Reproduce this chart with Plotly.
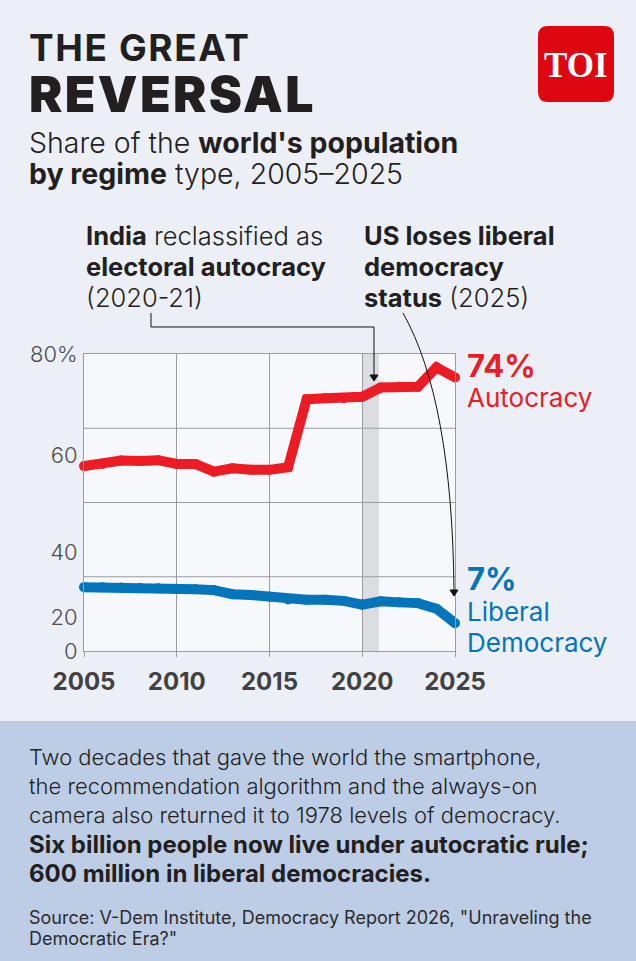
import plotly.graph_objects as go

# ---------------- data ----------------
years = list(range(2005, 2026))
autocracy = [49.8, 50.4, 51.3, 51.2, 51.4, 50.4, 50.4, 48.3, 49.2, 48.8, 48.8,
             49.5, 67.8, 68.1, 68.1, 68.5, 71.0, 71.2, 71.2, 76.4, 73.7]
liberal_democracy = [17.2, 17.2, 17.1, 17.0, 16.9, 16.7, 16.6, 16.4, 15.3, 15.1, 14.6,
                     13.9, 13.8, 13.8, 13.5, 12.5, 13.4, 13.1, 12.9, 11.4, 7.5]
x_tick_years = [2005, 2010, 2015, 2020, 2025]
y_tick_text = ["0", "20", "40", "60", "80%"]
y_tick_printed_at = [0, 9.0, 26.5, 52.8, 80]   # where the reference prints its labels
y_grid_values = [20, 40, 60]
india_period = [2020, 2020.9]
autocracy_label = "74%"
democracy_label = "7%"

# ---------------- styling ----------------
W, H = 636, 961
FONT = "Inter"
RED = "#ED1C24"
BLUE = "#0474BB"
DARK = "#231F20"
GRID = "#9C9C9E"
BG = "#ECEFF5"
PLOT_BG = "#F6F8FC"
BOX = "#BDCDE6"
ASC = 0.97


def px(x):
    return x / W


def py(y):
    return 1 - y / H


fig = go.Figure()

fig.add_trace(go.Scatter(x=years, y=autocracy, mode="lines+markers",
                         line=dict(color=RED, width=10),
                         marker=dict(color=RED, size=10),
                         cliponaxis=False, hoverinfo="skip", showlegend=False))
fig.add_trace(go.Scatter(x=years, y=liberal_democracy, mode="lines+markers",
                         line=dict(color=BLUE, width=10),
                         marker=dict(color=BLUE, size=10),
                         cliponaxis=False, hoverinfo="skip", showlegend=False))

shapes = []
shapes.append(dict(type="rect", xref="paper", yref="paper", x0=0, x1=1,
                   y0=0, y1=py(721), fillcolor=BOX, line=dict(width=0), layer="below"))
shapes.append(dict(type="rect", xref="x", yref="y domain", x0=india_period[0], x1=india_period[1],
                   y0=0, y1=1, fillcolor="#DCDDE2", line=dict(width=0), layer="below"))
for v in y_grid_values:
    shapes.append(dict(type="line", xref="x domain", yref="y", x0=0, x1=1, y0=v, y1=v,
                       line=dict(color=GRID, width=1), layer="below"))


def P(x, y):
    return f"{px(x):.5f},{py(y):.5f}"


shapes.append(dict(type="path", xref="paper", yref="paper",
                   path=f"M{P(151,313)} L{P(151,327)} L{P(374,327)} L{P(374,376)}",
                   line=dict(color="#111", width=1), fillcolor="rgba(0,0,0,0)"))
shapes.append(dict(type="path", xref="paper", yref="paper",
                   path=f"M{P(370,375)} L{P(378,375)} L{P(374,381)} Z",
                   line=dict(color="#111", width=1), fillcolor="#111"))
shapes.append(dict(type="path", xref="paper", yref="paper",
                   path=f"M{P(403,313)} Q{P(452,400)} {P(454,590)}",
                   line=dict(color="#111", width=1), fillcolor="rgba(0,0,0,0)"))
shapes.append(dict(type="path", xref="paper", yref="paper",
                   path=f"M{P(450,590)} L{P(458,590)} L{P(454,596)} Z",
                   line=dict(color="#111", width=1), fillcolor="#111"))
x0, y0, x1, y1, r = 538, 26, 614, 102, 10
shapes.append(dict(type="path", xref="paper", yref="paper",
                   path=(f"M{P(x0+r,y0)} L{P(x1-r,y0)} Q{P(x1,y0)} {P(x1,y0+r)} "
                         f"L{P(x1,y1-r)} Q{P(x1,y1)} {P(x1-r,y1)} L{P(x0+r,y1)} "
                         f"Q{P(x0,y1)} {P(x0,y1-r)} L{P(x0,y0+r)} Q{P(x0,y0)} {P(x0+r,y0)} Z"),
                   line=dict(width=0), fillcolor="#DE0710"))

annotations = []


def text(t, x, baseline, size, color=DARK, weight=400, family=FONT, anchor="left", asc=ASC,
         base_size=None):
    annotations.append(dict(text=t, xref="paper", yref="paper", x=px(x), y=py(baseline - asc * size),
                            xanchor=anchor, yanchor="top", align=anchor, showarrow=False,
                            borderpad=0, borderwidth=0,
                            font=dict(family=family, size=base_size or size, color=color,
                                      weight=weight)))


def block(items, x, first_baseline, spacing, sizes, **kw):
    """One multi-line text; line pitch = 1.3 x base font size, each line sized by its span."""
    if not isinstance(sizes, (list, tuple)):
        sizes = [sizes] * len(items)
    body = "<br>".join(f"<span style='font-size:{s}px'>{t}</span>" for t, s in zip(items, sizes))
    text(body, x, first_baseline, sizes[0], base_size=spacing / 1.3, **kw)


def light(t):
    return f"<span style='font-weight:300'>{t}</span>"


def bold(t):
    return f"<span style='font-weight:700'>{t}</span>"


block(["<span style='letter-spacing:1.6px'>THE GREAT</span>",
       "<span style='letter-spacing:2.4px;font-weight:900'>REVERSAL</span>"],
      29, 61, 51, [37, 50], weight=700)
block([light("Share of the ") + "<b>world's population</b>",
       "<b>by regime</b>" + light(" type, 2005–2025")], 29, 153, 31, 28.5)
text("<b>TOI</b>", 576, 77, 35, color="white", family="Liberation Serif", anchor="center", asc=0.891)

block(["<b>India</b>" + light(" reclassified as"),
       "<b>electoral autocracy</b>",
       light("(2020-21)")], 86, 245, 31, 25.5)
block(["<b>US loses liberal</b>",
       "<b>democracy</b>",
       "<b>status</b>" + light(" (2025)")], 364, 245, 31, 25.5)

block([f"<b>{autocracy_label}</b>", "Autocracy"], 467, 377, 30, [31, 26], color=RED)
block([f"<b>{democracy_label}</b>", "Liberal", "Democracy"], 467, 590, 31, [31, 26, 26], color=BLUE)

block([light("Two decades that gave the world the smartphone,"),
       light("the recommendation algorithm and the always-on"),
       light("camera also returned it to 1978 levels of democracy."),
       bold("Six billion people now live under autocratic rule;"),
       bold("600 million in liberal democracies.")], 29, 765, 29.2, [22, 22, 22, 24, 24])
block(['Source: V-Dem Institute, Democracy Report 2026, "Unraveling the',
       'Democratic Era?"'], 29, 924, 21, 18, color="#2b2b2b")

fig.update_layout(
    width=W, height=H, autosize=False,
    margin=dict(l=0, r=0, t=0, b=0, pad=0, autoexpand=False),
    paper_bgcolor=BG, plot_bgcolor=PLOT_BG,
    shapes=shapes, annotations=annotations,
    showlegend=False,
    xaxis=dict(domain=[px(84), px(455)], range=[2005, 2025], tickvals=x_tick_years,
               showgrid=True, gridcolor=GRID, gridwidth=1, zeroline=False,
               showline=True, mirror=True, linecolor=GRID, linewidth=1,
               ticks="outside", ticklen=5, tickcolor=GRID, ticklabelstandoff=4,
               tickfont=dict(family=FONT, size=24, color="#414042", weight=700),
               fixedrange=True),
    yaxis=dict(domain=[py(651), py(354)], range=[0, 80], tickvals=y_tick_printed_at,
               ticktext=y_tick_text, showgrid=False, zeroline=False,
               showline=True, mirror=True, linecolor=GRID, linewidth=1,
               ticks="", ticklabelstandoff=1,
               tickfont=dict(family=FONT, size=22, color="#4D4D4F", weight=300),
               fixedrange=True),
)

fig.write_html("out.html", config={"responsive": False, "displayModeBar": False})

# remove the default page margin so the figure sits flush in the window
with open("out.html", encoding="utf-8") as f:
    html = f.read()
html = html.replace("<head>", "<head><style>html,body{margin:0;padding:0;overflow:hidden;}</style>", 1)
with open("out.html", "w", encoding="utf-8") as f:
    f.write(html)
